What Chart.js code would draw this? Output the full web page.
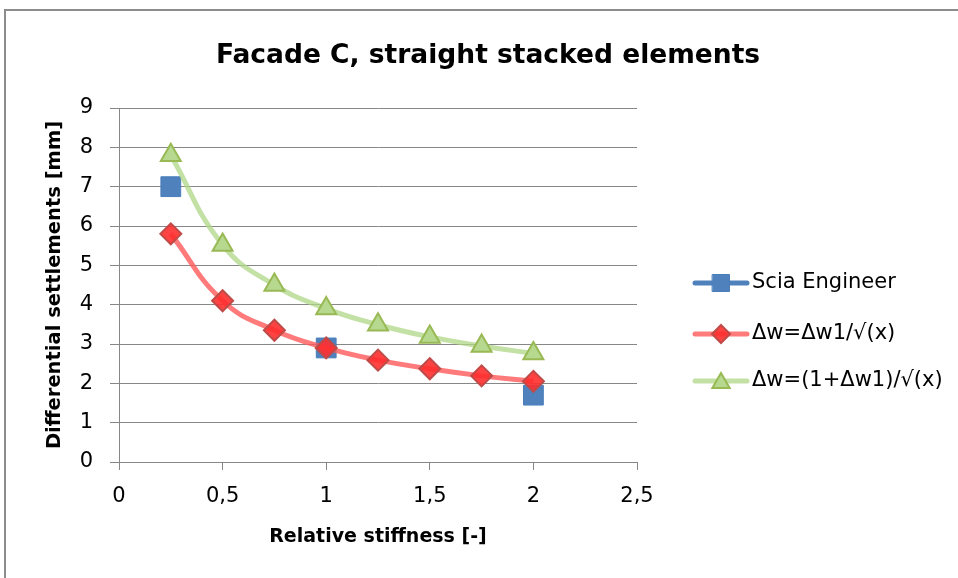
<!DOCTYPE html>
<html>
<head>
<meta charset="utf-8">
<script src="https://cdn.jsdelivr.net/npm/chart.js@4/dist/chart.umd.min.js"></script>
<style>
  html, body { margin: 0; padding: 0; background: #ffffff; }
  #wrap { position: relative; width: 958px; height: 578px; overflow: hidden; }
  #frame { position: absolute; left: 4px; top: 9px; width: 980px; height: 600px; border: 2px solid #8c8c8c; box-sizing: border-box; }
  canvas { position: absolute; left: 0; top: 0; }
</style>
</head>
<body>
<div id="wrap">
  <div id="frame"></div>
  <canvas id="c" width="958" height="578"></canvas>
</div>
<script>
const chartTitle = 'Facade C, straight stacked elements';
const xAxisTitle = 'Relative stiffness [-]';
const yAxisTitle = 'Differential settlements [mm]';
const seriesNames = ['Scia Engineer', 'Δw=Δw1/√(x)', 'Δw=(1+Δw1)/√(x)'];

const sciaX = [0.25, 1, 2];
const sciaY = [7.0, 2.9, 1.7];

const stiffness = [0.25, 0.5, 0.75, 1, 1.25, 1.5, 1.75, 2];
const formula1 = [5.80, 4.10, 3.35, 2.90, 2.59, 2.37, 2.19, 2.05];
const formula2 = [7.80, 5.52, 4.50, 3.90, 3.49, 3.18, 2.95, 2.76];

const xTickValues = [0, 0.5, 1, 1.5, 2, 2.5];
const xTickLabels = ['0', '0,5', '1', '1,5', '2', '2,5'];
const yTickLabels = ['0', '1', '2', '3', '4', '5', '6', '7', '8', '9'];

const FONT = '"DejaVu Sans", "Open Sans", sans-serif';
const GRID = '#878787';

// size a font so that a text spans the width it has in the reference
const mctx = document.createElement('canvas').getContext('2d');
function fitSize(text, weight, target) {
  mctx.font = weight + ' 100px ' + FONT;
  return Math.round(100 * target / mctx.measureText(text).width * 2) / 2;
}
const titleSize = fitSize(chartTitle, 'bold', 547);
const legendSize = fitSize(seriesNames[0], 'normal', 143);
const xTitleSize = fitSize(xAxisTitle, 'bold', 220);
const yTitleSize = fitSize(yAxisTitle, 'bold', 326);
const tickSize = legendSize;

function pts(xs, ys) { return xs.map((x, i) => ({ x: x, y: ys[i] })); }

const styles = [
  { line: '#4F81BD', fill: '#4F81BD', border: '#4A7EBB', shape: 'rect', r: 14, lr: 12 },
  { line: 'rgba(255,90,90,0.8)', fill: 'rgba(255,45,45,0.9)', border: '#BE4B48', shape: 'rectRot', r: 10.5, lr: 9 },
  { line: 'rgba(175,215,135,0.75)', fill: '#B7D98F', border: '#98B954', shape: 'triangle', r: 11.5, lr: 10 }
];

function drawShape(ctx, shape, r, x, y) {
  if (shape === 'rect') {
    const s = r * Math.SQRT1_2;
    ctx.rect(x - s, y - s, 2 * s, 2 * s);
  } else if (shape === 'rectRot') {
    ctx.moveTo(x, y - r); ctx.lineTo(x + r, y); ctx.lineTo(x, y + r); ctx.lineTo(x - r, y); ctx.closePath();
  } else {
    const a = Math.PI / 6;
    ctx.moveTo(x, y - r);
    ctx.lineTo(x + r * Math.cos(a), y + r * Math.sin(a));
    ctx.lineTo(x - r * Math.cos(a), y + r * Math.sin(a));
    ctx.closePath();
  }
}

const textPlugin = {
  id: 'customText',
  afterDraw(chart) {
    const ctx = chart.ctx;
    ctx.save();
    ctx.fillStyle = '#000';
    ctx.font = 'bold ' + titleSize + 'px ' + FONT;
    ctx.textAlign = 'center';
    ctx.textBaseline = 'middle';
    ctx.fillText(chartTitle, 488, 56);
    const ys = [283, 334, 381];
    for (let i = 0; i < 3; i++) {
      const s = styles[i];
      const y = ys[i];
      ctx.lineCap = 'round';
      ctx.strokeStyle = s.line;
      ctx.lineWidth = 5;
      ctx.beginPath();
      ctx.moveTo(695, y);
      ctx.lineTo(747, y);
      ctx.stroke();
      ctx.fillStyle = s.fill;
      ctx.strokeStyle = s.border;
      ctx.lineWidth = i === 0 ? 1 : 2;
      ctx.beginPath();
      drawShape(ctx, s.shape, s.lr, 721, y + (i === 2 ? 2 : 0));
      ctx.fill();
      ctx.stroke();
      ctx.fillStyle = '#000';
      ctx.font = legendSize + 'px ' + FONT;
      ctx.textAlign = 'left';
      ctx.textBaseline = 'middle';
      ctx.fillText(seriesNames[i], 752, y);
    }
    ctx.restore();
  }
};

const tickLH = tickSize * 1.2;
const xTitleLH = xTitleSize * 1.2;
const yTitleLH = yTitleSize * 1.2;

new Chart(document.getElementById('c'), {
  type: 'scatter',
  data: {
    datasets: [
      {
        label: seriesNames[0], data: pts(sciaX, sciaY), showLine: false,
        pointStyle: styles[0].shape, pointRadius: styles[0].r,
        backgroundColor: styles[0].fill, borderColor: styles[0].border, pointBorderWidth: 1,
        order: 3
      },
      {
        label: seriesNames[1], data: pts(stiffness, formula1), showLine: true,
        borderColor: styles[1].line, borderWidth: 5, tension: 0.45,
        pointStyle: styles[1].shape, pointRadius: styles[1].r,
        pointBackgroundColor: styles[1].fill, pointBorderColor: styles[1].border, pointBorderWidth: 2,
        order: 2
      },
      {
        label: seriesNames[2], data: pts(stiffness, formula2), showLine: true,
        borderColor: styles[2].line, borderWidth: 5, tension: 0.45,
        pointStyle: styles[2].shape, pointRadius: styles[2].r,
        pointBackgroundColor: styles[2].fill, pointBorderColor: styles[2].border, pointBorderWidth: 2,
        order: 1
      }
    ]
  },
  options: {
    responsive: false,
    animation: false,
    layout: { padding: { left: 0, top: 108, right: 321, bottom: 0 } },
    plugins: { legend: { display: false }, title: { display: false }, tooltip: { enabled: false } },
    scales: {
      x: {
        type: 'linear', min: 0, max: 2.5,
        afterFit(scale) { scale.height = 116; },
        afterBuildTicks(scale) { scale.ticks = xTickValues.map(v => ({ value: v })); },
        ticks: {
          padding: 497 - 462 - 8 - tickLH / 2, color: '#000', font: { family: FONT, size: tickSize },
          callback: (v, i) => xTickLabels[i]
        },
        grid: { drawOnChartArea: false, drawTicks: true, tickLength: 8, color: GRID, lineWidth: 1 },
        border: { color: GRID, width: 1 },
        title: { display: true, text: xAxisTitle, color: '#000', font: { family: FONT, size: xTitleSize, weight: 'bold' }, padding: { top: 0, bottom: 578 - 537 - xTitleLH / 2 } }
      },
      y: {
        type: 'linear', min: 0, max: 9,
        afterFit(scale) { scale.width = 119; },
        ticks: {
          stepSize: 1, padding: 17, color: '#000', font: { family: FONT, size: tickSize },
          callback: (v, i) => yTickLabels[i]
        },
        grid: { color: GRID, lineWidth: 1, drawTicks: true, tickLength: 9 },
        border: { color: GRID, width: 1 },
        title: { display: true, text: yAxisTitle, color: '#000', font: { family: FONT, size: yTitleSize, weight: 'bold' }, padding: { top: 55 - yTitleLH / 2, bottom: 0 } }
      }
    }
  },
  plugins: [textPlugin]
});
</script>
</body>
</html>
